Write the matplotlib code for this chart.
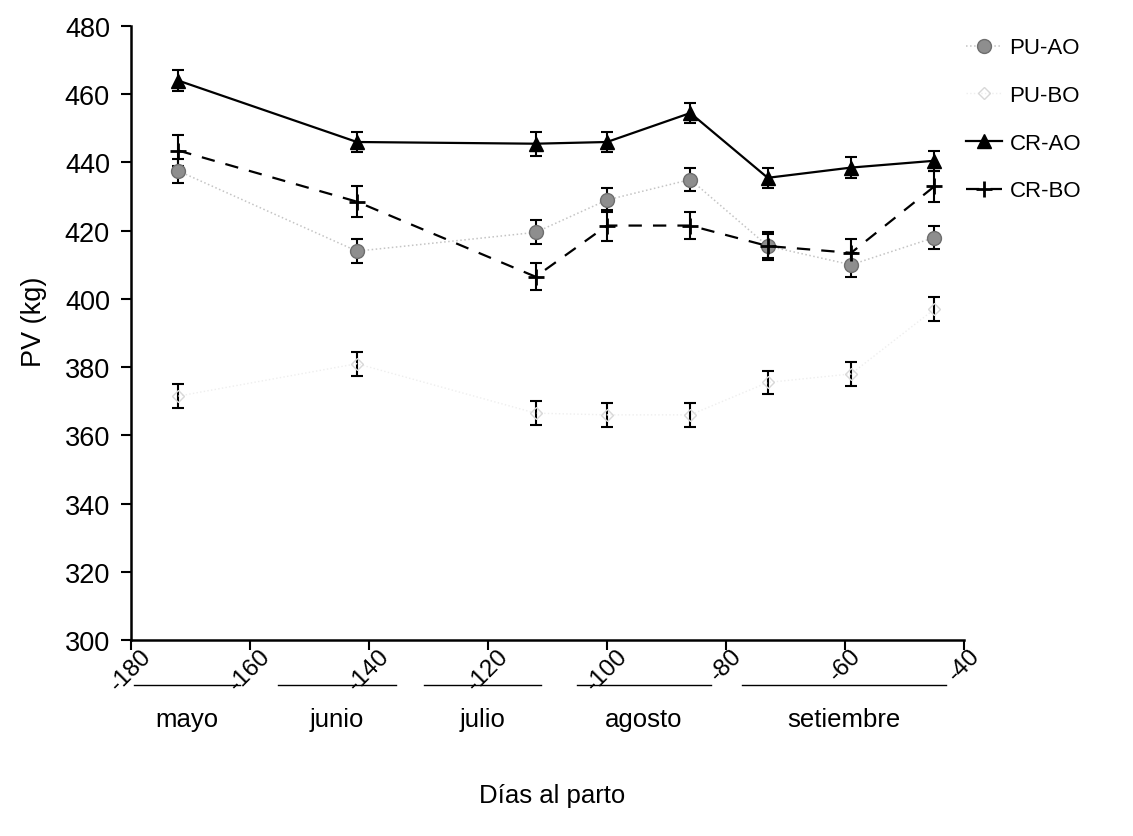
import matplotlib
matplotlib.use("Agg")
import matplotlib.pyplot as plt
import matplotlib.transforms as mtransforms
from matplotlib.lines import Line2D

plt.rcParams['font.family'] = ['Liberation Sans', 'DejaVu Sans']

# ---- data ----
days = [-172, -142, -112, -100, -86, -73, -59, -45]
pu_ao = [437.5, 414.0, 419.5, 429.0, 435.0, 415.5, 410.0, 418.0]
pu_bo = [371.5, 381.0, 366.5, 366.0, 366.0, 375.5, 378.0, 397.0]
cr_ao = [464.0, 446.0, 445.5, 446.0, 454.5, 435.5, 438.5, 440.5]
cr_bo = [443.5, 428.5, 406.5, 421.5, 421.5, 415.5, 413.5, 433.0]
pu_ao_err = [3.5, 3.5, 3.5, 3.5, 3.5, 3.5, 3.5, 3.5]
pu_bo_err = [3.5, 3.5, 3.5, 3.5, 3.5, 3.5, 3.5, 3.5]
cr_ao_err = [3.0, 3.0, 3.5, 3.0, 3.0, 3.0, 3.0, 3.0]
cr_bo_err = [4.5, 4.5, 4.0, 4.5, 4.0, 4.0, 4.0, 4.5]

months = ['mayo', 'junio', 'julio', 'agosto', 'setiembre']
month_start = [-179.5, -155.3, -130.8, -105.0, -77.4]
month_end = [-161.6, -135.5, -111.1, -82.6, -43.1]

xticks = [-180, -160, -140, -120, -100, -80, -60, -40]
yticks = [300, 320, 340, 360, 380, 400, 420, 440, 460, 480]

fig = plt.figure(figsize=(11.33, 8.37), dpi=100)
ax = fig.add_axes([0.1154, 0.2342, 0.851 - 0.1154, 0.9677 - 0.2342])

eb_kw = dict(ecolor='black', elinewidth=1.5, capsize=4, capthick=1.5)

ax.errorbar(days, pu_ao, yerr=pu_ao_err, fmt='none', zorder=2, **eb_kw)
ax.plot(days, pu_ao, linestyle=':', color='#c4c4c4', linewidth=1.1,
        marker='o', markersize=10, markerfacecolor='#8e8e8e',
        markeredgecolor='#6e6e6e', label='PU-AO', zorder=3)

ax.errorbar(days, pu_bo, yerr=pu_bo_err, fmt='none', zorder=2, **eb_kw)
ax.plot(days, pu_bo, linestyle=':', color='#eeeeee', linewidth=1.0,
        marker='D', markersize=6, markerfacecolor='none',
        markeredgecolor='#d8d8d8', label='PU-BO', zorder=3)

ax.errorbar(days, cr_ao, yerr=cr_ao_err, fmt='none', zorder=2, **eb_kw)
ax.plot(days, cr_ao, linestyle='-', color='black', linewidth=1.6,
        marker='^', markersize=10, markerfacecolor='black',
        markeredgecolor='black', label='CR-AO', zorder=4)

ax.errorbar(days, cr_bo, yerr=cr_bo_err, fmt='none', zorder=2, **eb_kw)
ax.plot(days, cr_bo, linestyle=(0, (6, 5)), color='black', linewidth=1.6,
        marker='+', markersize=12, markeredgewidth=2, label='CR-BO', zorder=4)

ax.set_xlim(-180, -40)
ax.set_ylim(300, 480)
ax.set_xticks(xticks)
ax.set_yticks(yticks)
ax.set_xticklabels([str(v) for v in xticks], rotation=45, ha='center',
                   va='top', fontsize=17.5)
ax.set_yticklabels([str(v) for v in yticks], fontsize=19.5)
ax.tick_params(axis='both', direction='out', length=7, width=1.5, colors='black')
ax.tick_params(axis='x', pad=-4)
ax.tick_params(axis='y', pad=8)
for s in ['top', 'right']:
    ax.spines[s].set_visible(False)
for s in ['left', 'bottom']:
    ax.spines[s].set_linewidth(1.8)

ax.set_ylabel('PV (kg)', fontsize=19.5)
ax.yaxis.set_label_coords(-0.10, 0.52)

trans = mtransforms.blended_transform_factory(ax.transData, ax.transAxes)
for name, a, b in zip(months, month_start, month_end):
    ax.add_line(Line2D([a, b], [-0.074, -0.074], transform=trans, color='black',
                       linewidth=1.0, clip_on=False))
    ax.text((a + b) / 2, -0.128, name, transform=trans, ha='center', va='center',
            fontsize=18.5)
ax.text(0.505, -0.252, 'Días al parto', transform=ax.transAxes, ha='center',
        va='center', fontsize=18.5)

leg = fig.legend(loc='upper left', bbox_to_anchor=(0.835, 0.978), frameon=False,
                 fontsize=16, handlelength=1.6, labelspacing=1.2,
                 handletextpad=0.35)

fig.savefig('out.png', dpi=100)
